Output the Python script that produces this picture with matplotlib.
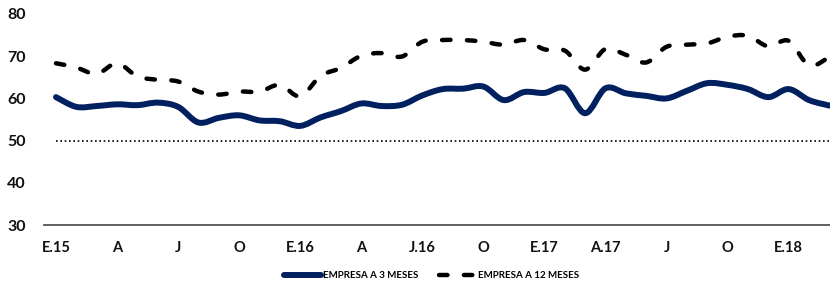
import numpy as np
import matplotlib.pyplot as plt
from matplotlib.path import Path
from matplotlib.patches import PathPatch
from matplotlib.lines import Line2D

plt.rcParams['font.family'] = ['Lato', 'DejaVu Sans']

# monthly data, Jan 2015 .. Mar 2018
emp_3m = [60.3, 58.0, 58.2, 58.6, 58.4, 59.0, 58.0, 54.3, 55.4, 56.0,
          54.8, 54.6, 53.5, 55.5, 57.0, 58.8, 58.2, 58.5, 60.7, 62.2,
          62.3, 62.8, 59.6, 61.5, 61.3, 62.4, 56.5, 62.4, 61.2, 60.6,
          60.0, 61.8, 63.6, 63.2, 62.2, 60.3, 62.2, 59.6, 58.3]
emp_12m = [68.3, 67.3, 65.8, 68.3, 65.2, 64.4, 64.0, 61.6, 60.9, 61.6,
           61.6, 63.2, 60.5, 65.3, 67.2, 70.1, 70.7, 69.9, 73.4, 73.8,
           73.8, 73.4, 72.7, 73.8, 71.6, 71.3, 66.8, 71.7, 70.3, 68.5,
           72.2, 72.7, 73.0, 74.6, 74.8, 72.3, 73.6, 67.8, 69.8]
tick_labels = ['E.15', 'A', 'J', 'O', 'E.16', 'A', 'J.16', 'O',
               'E.17', 'A.17', 'J', 'O', 'E.18']
ref_level = 50

navy = '#002060'


def smooth_path(y):
    # Catmull-Rom style smoothing drawn as cubic bezier segments
    x = np.arange(len(y), dtype=float)
    y = np.asarray(y, dtype=float)
    px = np.concatenate([[x[0]], x, [x[-1]]])
    py = np.concatenate([[y[0]], y, [y[-1]]])
    verts = [(x[0], y[0])]
    codes = [Path.MOVETO]
    for i in range(1, len(px) - 2):
        c1 = (px[i] + (px[i + 1] - px[i - 1]) / 6, py[i] + (py[i + 1] - py[i - 1]) / 6)
        c2 = (px[i + 1] - (px[i + 2] - px[i]) / 6, py[i + 1] - (py[i + 2] - py[i]) / 6)
        verts += [c1, c2, (px[i + 1], py[i + 1])]
        codes += [Path.CURVE4] * 3
    return Path(verts, codes)


fig = plt.figure(figsize=(8.3, 2.84), dpi=100)
ax = fig.add_axes([0.053, 0.2067, 0.947, 0.7447])

n = len(emp_3m)
ax.hlines(ref_level, 0, n - 1, colors='black', linestyles=(0, (1, 1.6)), linewidth=1.2)

ax.add_patch(PathPatch(smooth_path(emp_12m), fill=False, edgecolor='black',
                       linewidth=3.2, linestyle=(0, (1.9, 3.7)),
                       capstyle='round', joinstyle='round'))
ax.add_patch(PathPatch(smooth_path(emp_3m), fill=False, edgecolor=navy,
                       linewidth=4.3, capstyle='round', joinstyle='round'))

ax.set_xlim(-0.59, 38.03)
ax.set_ylim(30, 80)
ax.set_yticks(range(30, 81, 10))
ax.set_xticks(range(0, n, 3))
ax.set_xticklabels(tick_labels)

for s in ['top', 'right', 'left']:
    ax.spines[s].set_visible(False)
ax.spines['bottom'].set_color('#555555')
ax.spines['bottom'].set_linewidth(1.3)
ax.tick_params(axis='y', length=0, pad=13, labelsize=11.5)
ax.tick_params(axis='x', length=0, pad=11, labelsize=10.5)
for lab in ax.get_xticklabels() + ax.get_yticklabels():
    lab.set_fontweight('bold')
    lab.set_color('#111111')

handles = [Line2D([], [], color=navy, linewidth=4.3, solid_capstyle='round'),
           Line2D([], [], color='black', linewidth=3.2, linestyle=(0, (1.9, 3.7)),
                  dash_capstyle='round')]
fig.legend(handles, ['EMPRESA A 3 MESES', 'EMPRESA A 12 MESES'],
           loc='center', bbox_to_anchor=(0.52, 0.03), ncol=2, frameon=False,
           prop={'size': 7, 'weight': 'bold'}, handlelength=3.8,
           handletextpad=0.2, columnspacing=2.2)

fig.savefig('out.png', dpi=100)
